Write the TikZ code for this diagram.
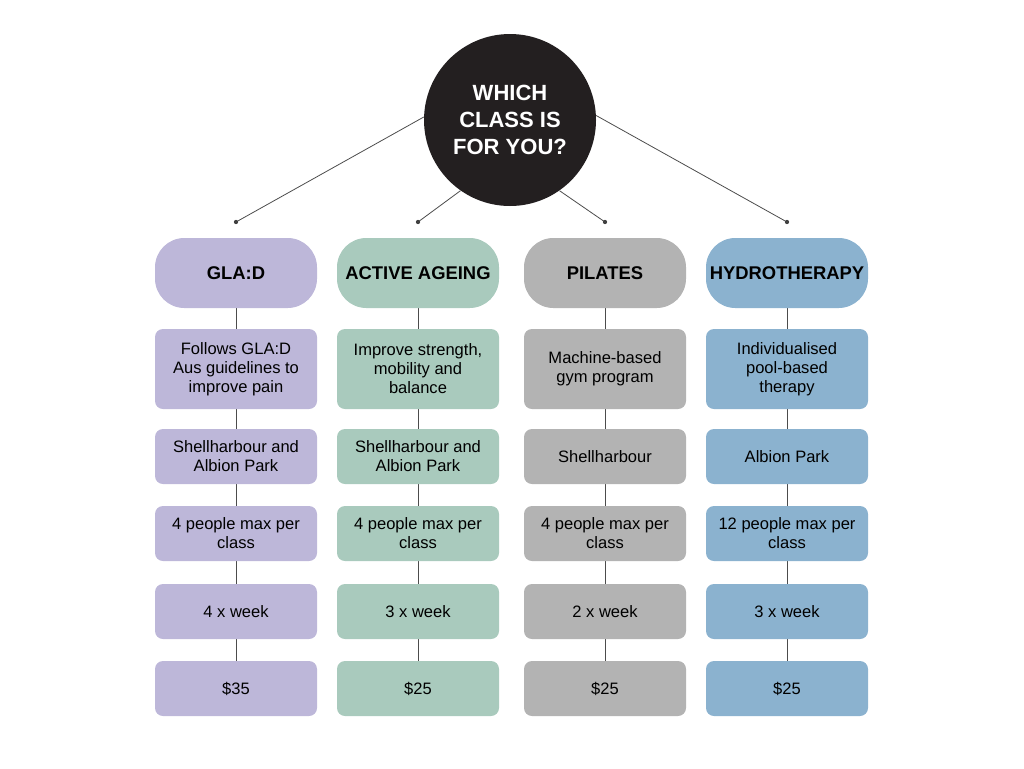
\documentclass[tikz,border=0pt]{standalone}
\usepackage{fontspec}
\setmainfont{Liberation Sans}
\usetikzlibrary{backgrounds}
\definecolor{gladpurple}{HTML}{BDB7D9}
\definecolor{ageinggreen}{HTML}{A9CABD}
\definecolor{pilatesgray}{HTML}{B3B3B3}
\definecolor{hydroblue}{HTML}{8BB2CF}
\definecolor{askblack}{HTML}{231F20}

\begin{document}
\begin{tikzpicture}[x=0.75pt, y=-0.75pt,
        head/.style={fill=#1, rounded corners=22pt, inner sep=0pt,
                     minimum width=121.5pt, minimum height=52.5pt,
                     font=\fontsize{13.8}{16}\selectfont\bfseries},
        info/.style={fill=#1, rounded corners=6pt, inner sep=0pt, align=center,
                     minimum width=121.5pt, minimum height=41.25pt,
                     font=\fontsize{12.4}{14.25}\selectfont},
        tall/.style={minimum height=60pt},
        link/.style={draw=black!70, line width=0.6pt},
        dot/.style={fill=black!75}
      ]
        \useasboundingbox (0,0) rectangle (1024,768);

        \node[circle, fill=askblack, minimum size=129pt, inner sep=0pt, align=center,
              text=white, font=\fontsize{16.5}{20}\selectfont\bfseries]
              (ask) at (510,120) {WHICH\\CLASS IS\\FOR YOU?};

        \coordinate (d1) at (236,222);
        \coordinate (d2) at (418,222);
        \coordinate (d3) at (605,222);
        \coordinate (d4) at (787,222);

        \draw[link] (ask.178) -- (d1);
        \draw[link] (ask.235) -- (d2);
        \draw[link] (ask.305) -- (d3);
        \draw[link] (ask.3)   -- (d4);
        \foreach \d in {d1,d2,d3,d4} \fill[dot] (\d) circle (1.6pt);

        % GLA:D
        \node[head=gladpurple]       (g0) at (236,273)   {GLA:D};
        \node[info=gladpurple, tall] (g1) at (236,369)   {Follows GLA:D\\Aus guidelines to\\improve pain};
        \node[info=gladpurple]       (g2) at (236,456.5) {Shellharbour and\\Albion Park};
        \node[info=gladpurple]       (g3) at (236,533.5) {4 people max per\\class};
        \node[info=gladpurple]       (g4) at (236,611.5) {4 x week};
        \node[info=gladpurple]       (g5) at (236,688.5) {\$35};

        % Active ageing
        \node[head=ageinggreen]       (a0) at (418,273)   {ACTIVE AGEING};
        \node[info=ageinggreen, tall] (a1) at (418,369)   {Improve strength,\\mobility and\\balance};
        \node[info=ageinggreen]       (a2) at (418,456.5) {Shellharbour and\\Albion Park};
        \node[info=ageinggreen]       (a3) at (418,533.5) {4 people max per\\class};
        \node[info=ageinggreen]       (a4) at (418,611.5) {3 x week};
        \node[info=ageinggreen]       (a5) at (418,688.5) {\$25};

        % Pilates
        \node[head=pilatesgray]       (p0) at (605,273)   {PILATES};
        \node[info=pilatesgray, tall] (p1) at (605,369)   {Machine-based\\gym program};
        \node[info=pilatesgray]       (p2) at (605,456.5) {Shellharbour};
        \node[info=pilatesgray]       (p3) at (605,533.5) {4 people max per\\class};
        \node[info=pilatesgray]       (p4) at (605,611.5) {2 x week};
        \node[info=pilatesgray]       (p5) at (605,688.5) {\$25};

        % Hydrotherapy
        \node[head=hydroblue]       (h0) at (787,273)   {HYDROTHERAPY};
        \node[info=hydroblue, tall] (h1) at (787,369)   {Individualised\\pool-based\\therapy};
        \node[info=hydroblue]       (h2) at (787,456.5) {Albion Park};
        \node[info=hydroblue]       (h3) at (787,533.5) {12 people max per\\class};
        \node[info=hydroblue]       (h4) at (787,611.5) {3 x week};
        \node[info=hydroblue]       (h5) at (787,688.5) {\$25};

        \begin{pgfonlayer}{background}
          \draw[link] (g0) -- (g5);
          \draw[link] (a0) -- (a5);
          \draw[link] (p0) -- (p5);
          \draw[link] (h0) -- (h5);
        \end{pgfonlayer}
      \end{tikzpicture}
\end{document}
